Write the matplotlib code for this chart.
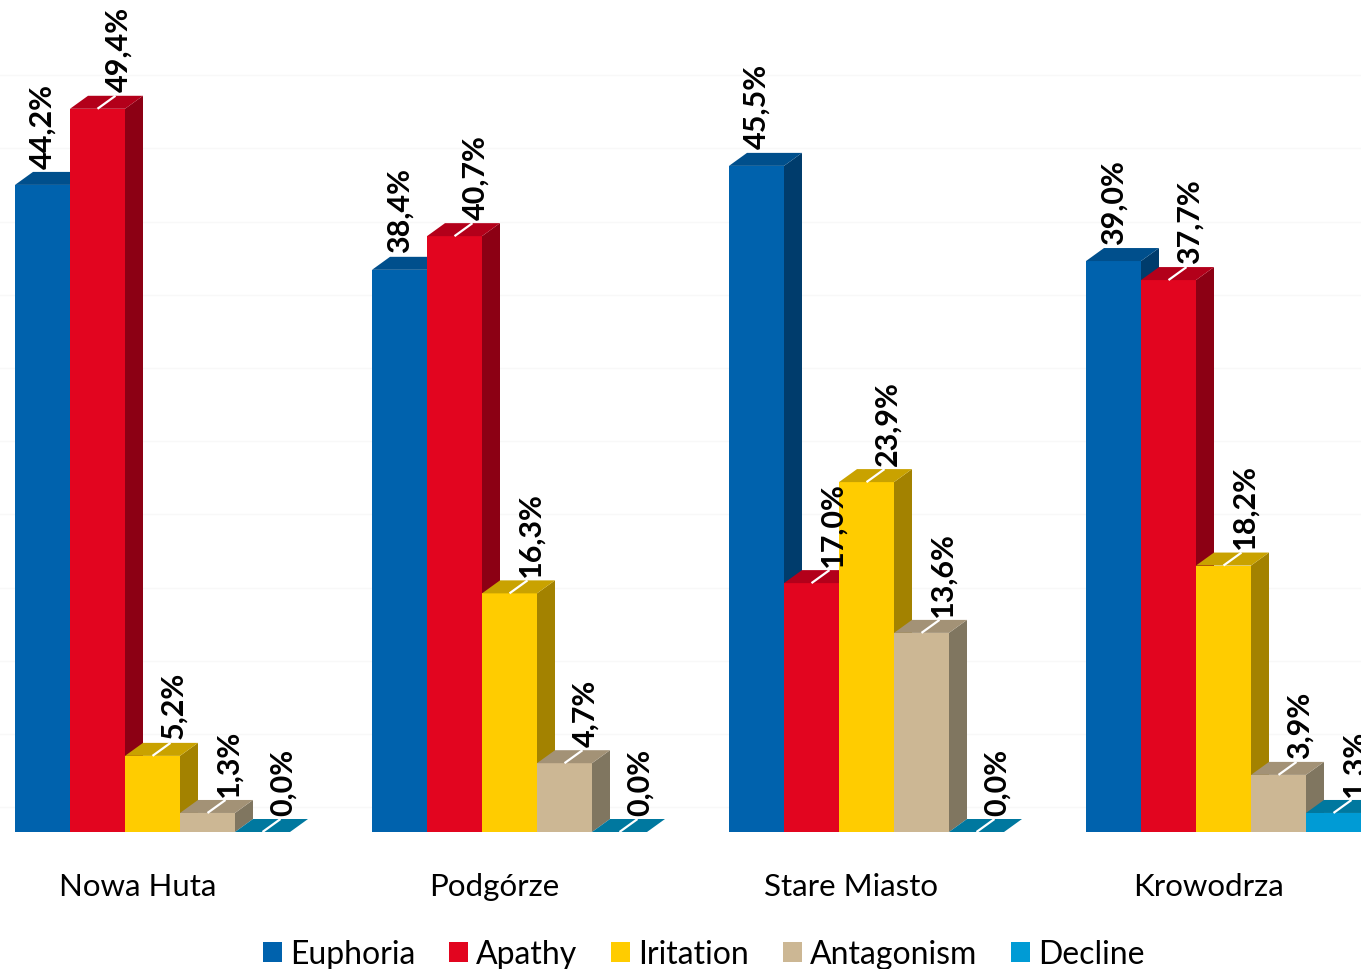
import matplotlib
matplotlib.use("Agg")
import matplotlib.pyplot as plt
from matplotlib.patches import Rectangle, Polygon, Patch

plt.rcParams['font.family'] = ['Lato', 'DejaVu Sans']

districts = ["Nowa Huta", "Podgórze", "Stare Miasto", "Krowodrza"]
series = ["Euphoria", "Apathy", "Iritation", "Antagonism", "Decline"]
euphoria = [44.2, 38.4, 45.5, 39.0]
apathy = [49.4, 40.7, 17.0, 37.7]
iritation = [5.2, 16.3, 23.9, 18.2]
antagonism = [1.3, 4.7, 13.6, 3.9]
decline = [0.0, 0.0, 0.0, 1.3]
values = [euphoria, apathy, iritation, antagonism, decline]

front_col = ['#0062ad', '#e2051f', '#ffcc00', '#ccb794', '#009bd5']
top_col = ['#004f8c', '#b3001a', '#c9a200', '#a39276', '#00789f']
side_col = ['#003c6c', '#8c0014', '#a38200', '#807660', '#005f7e']

# layout in pixels -> data units (x: one bar width, y: percent)
W, H = 1361, 970
BW = 55.0            # bar width px
PPP = 14.64          # px per percent
BASE = 833           # baseline px from top
GROUP_STEP = 357 / BW
FIRST = 15 / BW
DX = 18 / BW
DY = 13 / PPP

fig = plt.figure(figsize=(W / 100, H / 100), dpi=100)
ax = fig.add_axes([0, 0, 1, 1])
ax.set_xlim(0, W / BW)
ax.set_ylim(-(H - BASE) / PPP, BASE / PPP)
ax.axis('off')

# faint back-wall gridlines
for k in range(11):
    ax.axhline(5 * k + 1.7, color='#f8f8f8', lw=1, zorder=0)

for g, name in enumerate(districts):
    g0 = FIRST + g * GROUP_STEP
    for s in range(len(series)):
        v = values[s][g]
        x0 = g0 + s
        z = 2 + s
        if v > 0:
            ax.add_patch(Rectangle((x0, 0), 1, v, facecolor=front_col[s],
                                   edgecolor='none', zorder=z))
            ax.add_patch(Polygon([(x0 + 1, 0), (x0 + 1 + DX, DY),
                                  (x0 + 1 + DX, v + DY), (x0 + 1, v)],
                                 facecolor=side_col[s], edgecolor='none', zorder=z))
        ax.add_patch(Polygon([(x0, v), (x0 + 1, v), (x0 + 1 + DX, v + DY),
                              (x0 + DX, v + DY)],
                             facecolor=top_col[s], edgecolor='none', zorder=z))
        xc = x0 + 0.5
        label = f"{v:.1f}%".replace('.', ',')
        if s == 0:
            lx = xc
        else:
            ax.plot([xc, xc + DX], [v, v + DY], color='white', lw=1.6,
                    solid_capstyle='butt', zorder=z + 0.5)
            lx = xc + DX + 0.05
        ax.text(lx, v + DY + 0.3, label, rotation=90, ha='center', va='bottom',
                fontsize=22, fontweight='bold', color='black', zorder=10)
    ax.text(g0 + 2.5 - 15 / BW, -54 / PPP, name, ha='center', va='center',
            fontsize=22.5, color='black')

handles = [Patch(facecolor=c, edgecolor='none') for c in front_col]
fig.legend(handles, series, loc='lower center', bbox_to_anchor=(0.517, -0.03),
           ncol=5, frameon=False, fontsize=23, handlelength=0.6, handleheight=0.6,
           handletextpad=0.25, columnspacing=1.05)

fig.savefig("out.png", dpi=100)
